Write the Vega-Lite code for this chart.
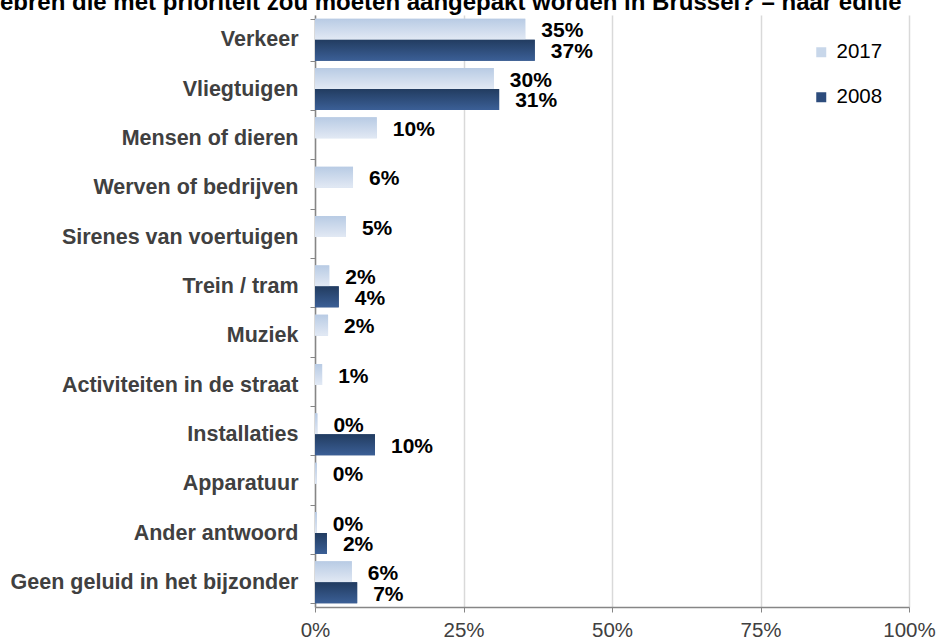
{
  "$schema": "https://vega.github.io/schema/vega-lite/v6.json",
  "autosize": {"type": "pad"},
  "width": 594,
  "height": 592,
  "padding": {"left": 0, "top": -9, "right": 0, "bottom": 0},
  "background": "white",
  "config": {"view": {"stroke": null}, "font": "Liberation Sans"},
  "title": {
    "text": "ebren die met prioriteit zou moeten aangepakt worden in Brussel? – naar editie",
    "anchor": "start",
    "frame": "group",
    "dx": -315,
    "offset": -30,
    "baseline": "alphabetic",
    "fontSize": 24,
    "fontWeight": "bold",
    "color": "#000000",
    "font": "Liberation Sans"
  },
  "data": {
    "values": [
      {"bron": "Verkeer", "editie": "2017", "aandeel": 0.354},
      {"bron": "Verkeer", "editie": "2008", "aandeel": 0.37},
      {"bron": "Vliegtuigen", "editie": "2017", "aandeel": 0.301},
      {"bron": "Vliegtuigen", "editie": "2008", "aandeel": 0.31},
      {"bron": "Mensen of dieren", "editie": "2017", "aandeel": 0.104},
      {"bron": "Werven of bedrijven", "editie": "2017", "aandeel": 0.064},
      {"bron": "Sirenes van voertuigen", "editie": "2017", "aandeel": 0.052},
      {"bron": "Trein / tram", "editie": "2017", "aandeel": 0.024},
      {"bron": "Trein / tram", "editie": "2008", "aandeel": 0.04},
      {"bron": "Muziek", "editie": "2017", "aandeel": 0.022},
      {"bron": "Activiteiten in de straat", "editie": "2017", "aandeel": 0.012},
      {"bron": "Installaties", "editie": "2017", "aandeel": 0.004},
      {"bron": "Installaties", "editie": "2008", "aandeel": 0.101},
      {"bron": "Apparatuur", "editie": "2017", "aandeel": 0.003},
      {"bron": "Ander antwoord", "editie": "2017", "aandeel": 0.003},
      {"bron": "Ander antwoord", "editie": "2008", "aandeel": 0.02},
      {"bron": "Geen geluid in het bijzonder", "editie": "2017", "aandeel": 0.062},
      {"bron": "Geen geluid in het bijzonder", "editie": "2008", "aandeel": 0.071}
    ]
  },
  "encoding": {
    "y": {
      "field": "bron",
      "type": "nominal",
      "sort": ["Verkeer", "Vliegtuigen", "Mensen of dieren", "Werven of bedrijven", "Sirenes van voertuigen", "Trein / tram", "Muziek", "Activiteiten in de straat", "Installaties", "Apparatuur", "Ander antwoord", "Geen geluid in het bijzonder"],
      "scale": {"paddingInner": 0.15, "paddingOuter": 0.075},
      "axis": {
        "title": null,
        "tickBand": "extent",
        "labelFontSize": 21.5,
        "labelFontWeight": "bold",
        "labelColor": "#404040",
        "labelFont": "Liberation Sans",
        "labelLimit": 0,
        "labelPadding": 12,
        "tickSize": 5,
        "tickColor": "#868686",
        "domainColor": "#868686",
        "domainWidth": 1.5,
        "grid": false
      }
    },
    "yOffset": {"field": "editie", "type": "nominal", "sort": ["2017", "2008"]},
    "x": {
      "field": "aandeel",
      "type": "quantitative",
      "scale": {"domain": [0, 1]},
      "axis": {
        "title": null,
        "values": [0, 0.25, 0.5, 0.75, 1],
        "format": ".0%",
        "labelFlush": false,
        "labelFontSize": 20.5,
        "labelColor": "#404040",
        "labelFont": "Liberation Sans",
        "labelPadding": 8,
        "tickSize": 5,
        "tickColor": "#868686",
        "domainColor": "#868686",
        "domainWidth": 1.5,
        "grid": true,
        "gridColor": "#d9d9d9",
        "gridWidth": 1.5
      }
    }
  },
  "layer": [
    {
      "mark": {"type": "bar"},
      "encoding": {
        "color": {
          "field": "editie",
          "type": "nominal",
          "scale": {"domain": ["2017", "2008"], "range": ["#c8d7ea", "#2d4c7c"]},
          "legend": {
            "title": null,
            "orient": "none",
            "legendX": 496,
            "legendY": 27,
            "symbolType": "square",
            "symbolSize": 100,
            "symbolStrokeWidth": 0,
            "labelFontSize": 20.5,
            "labelColor": "#000000",
            "labelFont": "Liberation Sans",
            "labelOffset": 5,
            "rowPadding": 24
          }
        }
      }
    },
    {
      "transform": [{"filter": "datum.editie == '2017'"}],
      "mark": {
        "type": "bar",
        "color": {
          "gradient": "linear", "x1": 0, "y1": 0, "x2": 0, "y2": 1,
          "stops": [{"offset": 0, "color": "#b8cbe4"}, {"offset": 1, "color": "#e2e9f4"}]
        }
      }
    },
    {
      "transform": [{"filter": "datum.editie == '2008'"}],
      "mark": {
        "type": "bar",
        "color": {
          "gradient": "linear", "x1": 0, "y1": 0, "x2": 0, "y2": 1,
          "stops": [{"offset": 0, "color": "#223c60"}, {"offset": 1, "color": "#3b5f96"}]
        }
      }
    },
    {
      "mark": {
        "type": "text",
        "align": "left",
        "baseline": "middle",
        "dx": 16,
        "dy": 2,
        "fontSize": 21,
        "fontWeight": "bold",
        "font": "Liberation Sans",
        "color": "#000000"
      },
      "encoding": {
        "text": {"field": "aandeel", "type": "quantitative", "format": ".0%"}
      }
    }
  ]
}
